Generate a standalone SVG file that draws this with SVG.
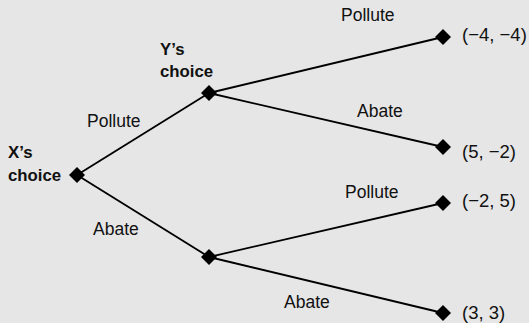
<svg xmlns="http://www.w3.org/2000/svg" width="529" height="323" viewBox="0 0 529 323">
<style>
text{font-family:"Liberation Sans",Arial,sans-serif;font-size:17.5px;fill:#111}
.p{font-size:18.5px}
.b{font-weight:bold;font-size:16.8px}
.e{stroke:#000;stroke-width:1.8;fill:none}
.d{fill:#000}
</style>
<defs><path id="dm" class="d" d="M0,-8 L8,0 L0,8 L-8,0Z"/></defs>
<rect width="529" height="323" fill="#e6e6e6"/>
<g id="connectors">
<line class="e" x1="77" y1="175" x2="209" y2="93"/>
<line class="e" x1="77" y1="175" x2="209" y2="257"/>
<line class="e" x1="209" y1="93" x2="443" y2="37"/>
<line class="e" x1="209" y1="93" x2="443" y2="147"/>
<line class="e" x1="209" y1="257" x2="443" y2="203"/>
<line class="e" x1="209" y1="257" x2="443" y2="313"/>
<text x="87" y="127">Pollute</text>
<text x="93" y="235">Abate</text>
<text x="341" y="21">Pollute</text>
<text x="357" y="117">Abate</text>
<text x="345" y="198">Pollute</text>
<text x="284" y="308">Abate</text>
</g>
<g id="x"><use href="#dm" x="77" y="175"/><text class="b" x="8" y="158">X’s</text><text class="b" x="8" y="181">choice</text></g>
<g id="y1"><use href="#dm" x="209" y="93"/><text class="b" x="160" y="55">Y’s</text><text class="b" x="160" y="77">choice</text></g>
<g id="y2"><use href="#dm" x="209" y="257"/></g>
<g id="t1"><use href="#dm" x="443" y="37"/><text class="p" x="462" y="41">(−4, −4)</text></g>
<g id="t2"><use href="#dm" x="443" y="147"/><text class="p" x="462" y="158">(5, −2)</text></g>
<g id="t3"><use href="#dm" x="443" y="203"/><text class="p" x="462" y="207">(−2, 5)</text></g>
<g id="t4"><use href="#dm" x="443" y="313"/><text class="p" x="462" y="319">(3, 3)</text></g>
</svg>
